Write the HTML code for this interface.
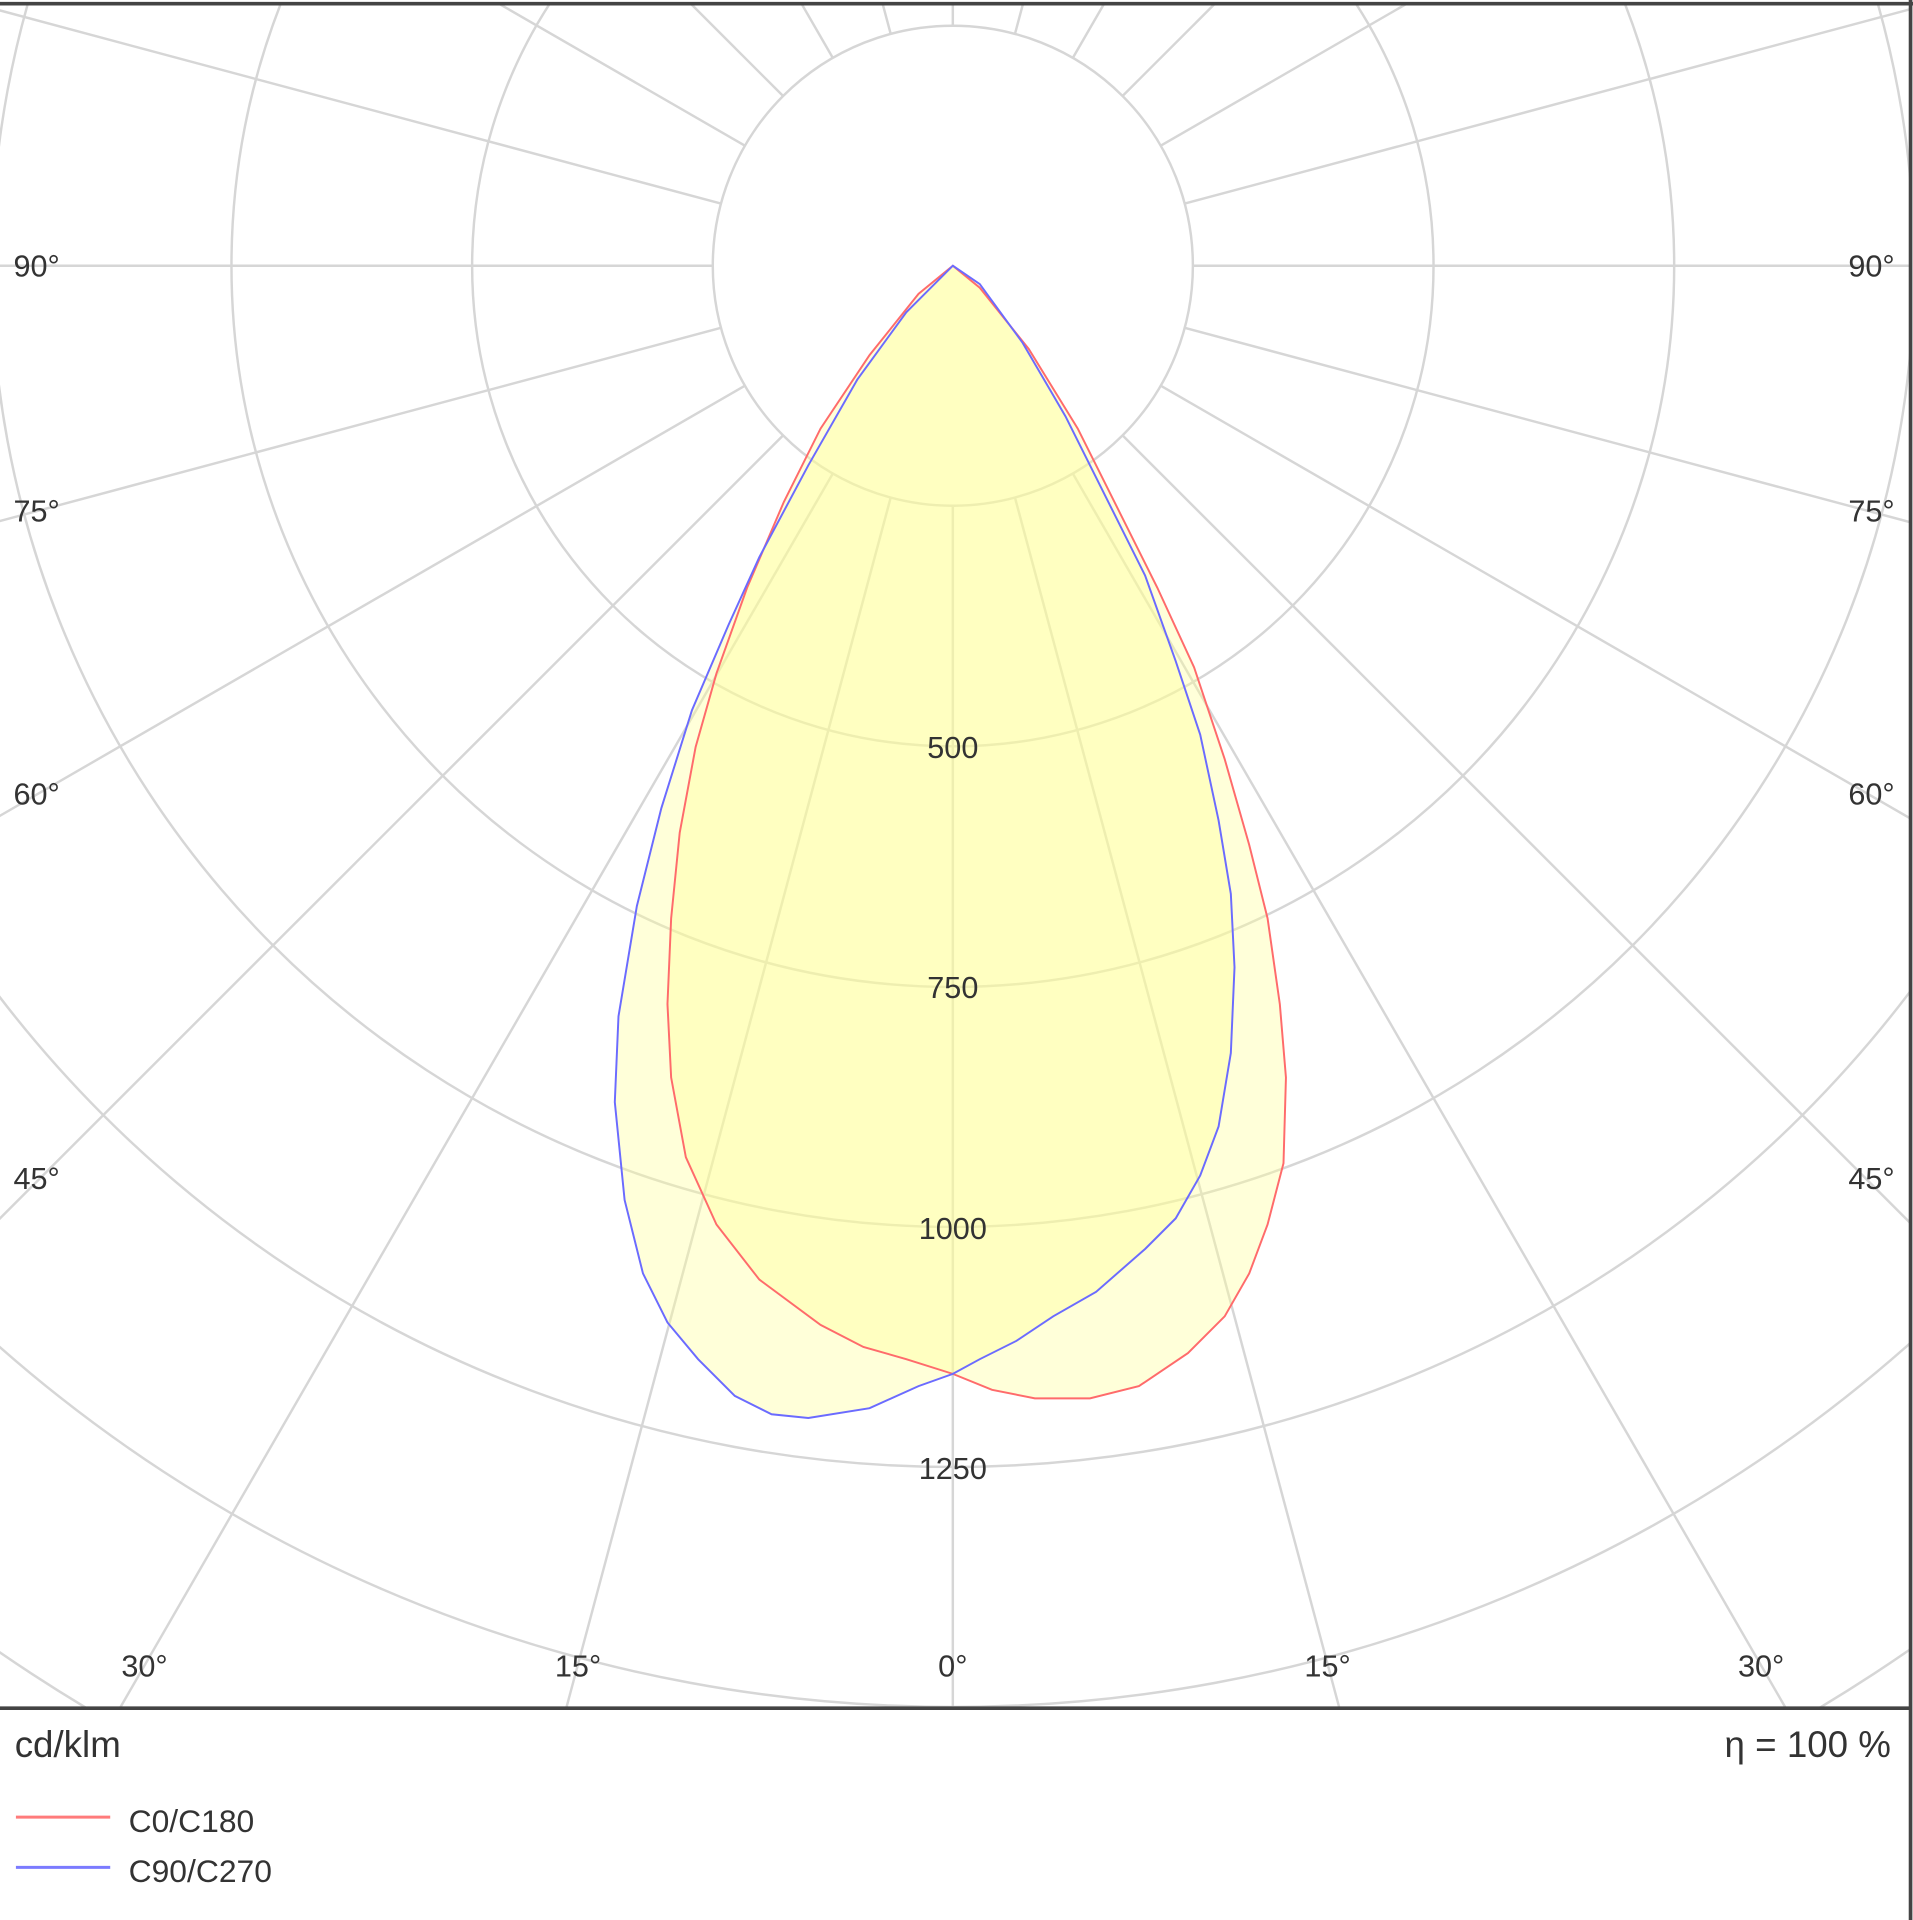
<!DOCTYPE html>
<html><head><style>html,body{margin:0;padding:0;background:#fff;width:1913px;height:1920px;overflow:hidden}svg{display:block}</style></head>
<body>
<svg width="1913" height="1920" viewBox="0 0 1562 1568" preserveAspectRatio="none" xmlns="http://www.w3.org/2000/svg" font-family="Liberation Sans, DejaVu Sans, sans-serif">
<defs><clipPath id="c"><rect x="0" y="4" width="1559" height="1390"/></clipPath></defs>
<rect width="1562" height="1568" fill="#fff"/>
<g clip-path="url(#c)">
<g transform="translate(778,217)" stroke="#d6d6d6" stroke-width="2" fill="none">
<circle r="196"/><circle r="392.5"/><circle r="589"/><circle r="785"/><circle r="981"/><circle r="1177"/><circle r="1374"/><circle r="1570"/>
<line x1="0" y1="196" x2="0" y2="2200" transform="rotate(0)"/>
<line x1="0" y1="196" x2="0" y2="2200" transform="rotate(15)"/>
<line x1="0" y1="196" x2="0" y2="2200" transform="rotate(30)"/>
<line x1="0" y1="196" x2="0" y2="2200" transform="rotate(45)"/>
<line x1="0" y1="196" x2="0" y2="2200" transform="rotate(60)"/>
<line x1="0" y1="196" x2="0" y2="2200" transform="rotate(75)"/>
<line x1="0" y1="196" x2="0" y2="2200" transform="rotate(90)"/>
<line x1="0" y1="196" x2="0" y2="2200" transform="rotate(105)"/>
<line x1="0" y1="196" x2="0" y2="2200" transform="rotate(120)"/>
<line x1="0" y1="196" x2="0" y2="2200" transform="rotate(135)"/>
<line x1="0" y1="196" x2="0" y2="2200" transform="rotate(150)"/>
<line x1="0" y1="196" x2="0" y2="2200" transform="rotate(165)"/>
<line x1="0" y1="196" x2="0" y2="2200" transform="rotate(180)"/>
<line x1="0" y1="196" x2="0" y2="2200" transform="rotate(195)"/>
<line x1="0" y1="196" x2="0" y2="2200" transform="rotate(210)"/>
<line x1="0" y1="196" x2="0" y2="2200" transform="rotate(225)"/>
<line x1="0" y1="196" x2="0" y2="2200" transform="rotate(240)"/>
<line x1="0" y1="196" x2="0" y2="2200" transform="rotate(255)"/>
<line x1="0" y1="196" x2="0" y2="2200" transform="rotate(270)"/>
<line x1="0" y1="196" x2="0" y2="2200" transform="rotate(285)"/>
<line x1="0" y1="196" x2="0" y2="2200" transform="rotate(300)"/>
<line x1="0" y1="196" x2="0" y2="2200" transform="rotate(315)"/>
<line x1="0" y1="196" x2="0" y2="2200" transform="rotate(330)"/>
<line x1="0" y1="196" x2="0" y2="2200" transform="rotate(345)"/>
</g>
<polygon fill="rgb(255,255,150)" fill-opacity="0.36" points="778,217 800,235 840,285 880,350 915,420 945,480 975,545 1000,620 1020,690 1035,750 1045,820 1050,880 1048,950 1035,1000 1020,1040 1000,1075 970,1105 930,1132 890,1142 845,1142 810,1135 778,1122 740,1110 705,1100 670,1082 620,1045 585,1000 560,945 548,880 545,820 548,750 555,680 568,610 585,550 610,480 640,410 670,350 710,290 750,240"/>
<polygon fill="rgb(255,255,150)" fill-opacity="0.36" points="778,217 800,232 835,280 870,340 905,410 935,470 960,540 980,600 995,670 1005,730 1008,790 1005,860 995,920 980,960 960,995 935,1020 895,1055 860,1075 830,1095 800,1110 778,1122 750,1132 710,1150 660,1158 630,1155 600,1140 570,1110 545,1080 525,1040 510,980 502,900 505,830 520,740 540,660 565,580 595,510 620,455 660,380 700,310 740,255"/>
<polygon fill="none" stroke="#ff6b6b" stroke-width="1.6" points="778,217 800,235 840,285 880,350 915,420 945,480 975,545 1000,620 1020,690 1035,750 1045,820 1050,880 1048,950 1035,1000 1020,1040 1000,1075 970,1105 930,1132 890,1142 845,1142 810,1135 778,1122 740,1110 705,1100 670,1082 620,1045 585,1000 560,945 548,880 545,820 548,750 555,680 568,610 585,550 610,480 640,410 670,350 710,290 750,240"/>
<polygon fill="none" stroke="#6b6bff" stroke-width="1.6" points="778,217 800,232 835,280 870,340 905,410 935,470 960,540 980,600 995,670 1005,730 1008,790 1005,860 995,920 980,960 960,995 935,1020 895,1055 860,1075 830,1095 800,1110 778,1122 750,1132 710,1150 660,1158 630,1155 600,1140 570,1110 545,1080 525,1040 510,980 502,900 505,830 520,740 540,660 565,580 595,510 620,455 660,380 700,310 740,255"/>
</g>
<g fill="#333" font-size="25">
<g text-anchor="middle">
<text x="778" y="619">500</text><text x="778" y="815">750</text><text x="778" y="1012">1000</text><text x="778" y="1208">1250</text>
<text x="118" y="1369">30°</text><text x="472" y="1369">15°</text><text x="778" y="1369">0°</text><text x="1084" y="1369">15°</text><text x="1438" y="1369">30°</text>
</g>
<text x="11" y="226">90°</text><text x="11" y="426">75°</text><text x="11" y="657">60°</text><text x="11" y="971">45°</text>
<g text-anchor="end"><text x="1547" y="226">90°</text><text x="1547" y="426">75°</text><text x="1547" y="657">60°</text><text x="1547" y="971">45°</text></g>
</g>
<g fill="none" stroke="#444" stroke-width="3">
<line x1="0" y1="3" x2="1562" y2="3"/>
<line x1="1560" y1="0" x2="1560" y2="1568"/>
<line x1="0" y1="1395" x2="1560" y2="1395"/>
</g>
<g fill="#333">
<text x="12" y="1435" font-size="30">cd/klm</text>
<text x="1544" y="1435" font-size="30" text-anchor="end">η = 100 %</text>
<text x="105" y="1496" font-size="26">C0/C180</text>
<text x="105" y="1537" font-size="26">C90/C270</text>
</g>
<line x1="13" y1="1484" x2="90" y2="1484" stroke="#ff7b7b" stroke-width="2.5"/>
<line x1="13" y1="1525" x2="90" y2="1525" stroke="#7b7bff" stroke-width="2.5"/>
</svg>
</body></html>
